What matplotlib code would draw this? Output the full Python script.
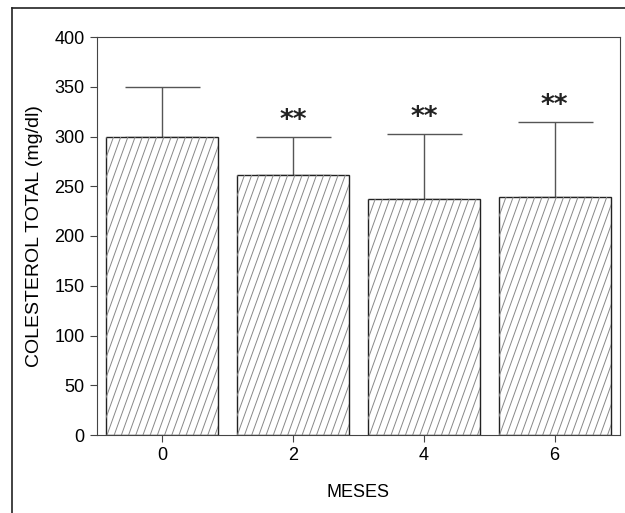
import matplotlib
matplotlib.use("Agg")
import matplotlib.pyplot as plt
import numpy as np

meses = ["0", "2", "4", "6"]
colesterol = [300, 261, 237, 239]
desvio = [50, 39, 66, 76]
signif = ["", "**", "**", "**"]

plt.rcParams['font.family'] = ['Liberation Sans', 'DejaVu Sans']

fig = plt.figure(figsize=(6.25, 5.13), dpi=100)
ax = fig.add_axes([97 / 625, 78 / 513, 523 / 625, 398 / 513])

x = np.arange(len(meses))
width = 0.855
bars = ax.bar(x, colesterol, width=width, color='white', edgecolor='#222222',
              linewidth=1.0, zorder=2)
ax.errorbar(x, colesterol, yerr=[np.zeros(len(x)), desvio], fmt='none',
            ecolor='#555555', elinewidth=1.0, capsize=27, capthick=1.0, zorder=1)

ax.set_xlim(-0.5, 3.5)
ax.set_ylim(0, 400)

# steep thin hatching, clipped to each bar
px_x = 523 / 4.0      # pixels per x unit
px_y = 398 / 400.0    # pixels per y unit
step = 7.2 / px_x     # horizontal spacing of hatch lines
lean = 0.36           # horizontal px per vertical px
for b, v in zip(bars, colesterol):
    x0 = b.get_x()
    shift = v * px_y * lean / px_x
    for s in np.arange(x0 - shift, x0 + width + step, step):
        ln, = ax.plot([s, s + shift], [0, v], color='#888888', lw=0.7, zorder=2.5)
        ln.set_clip_path(b)

for xi, v, d, s in zip(x, colesterol, desvio, signif):
    if s:
        ax.text(xi, v + d + 16, s, ha='center', va='center', fontsize=19,
                family='DejaVu Sans', fontweight='bold', color='#222222')

ax.set_yticks(range(0, 401, 50))
ax.set_xticks(x)
ax.set_xticklabels(meses)
ax.tick_params(labelsize=13, length=5, width=0.8, color='#444444', pad=4)
for sp in ax.spines.values():
    sp.set_color('#444444')
    sp.set_linewidth(0.8)

ax.set_xlabel('MESES', fontsize=13, labelpad=14)
ax.set_ylabel('COLESTEROL TOTAL (mg/dl)', fontsize=14, labelpad=8)

# outer frame of the figure
fig.add_artist(plt.Line2D([12 / 625, 1], [1 - 8 / 513, 1 - 8 / 513], color='#222222', lw=1.2))
fig.add_artist(plt.Line2D([12 / 625, 12 / 625], [0, 1 - 8 / 513], color='#222222', lw=1.2))

fig.savefig('out.png', dpi=100)
